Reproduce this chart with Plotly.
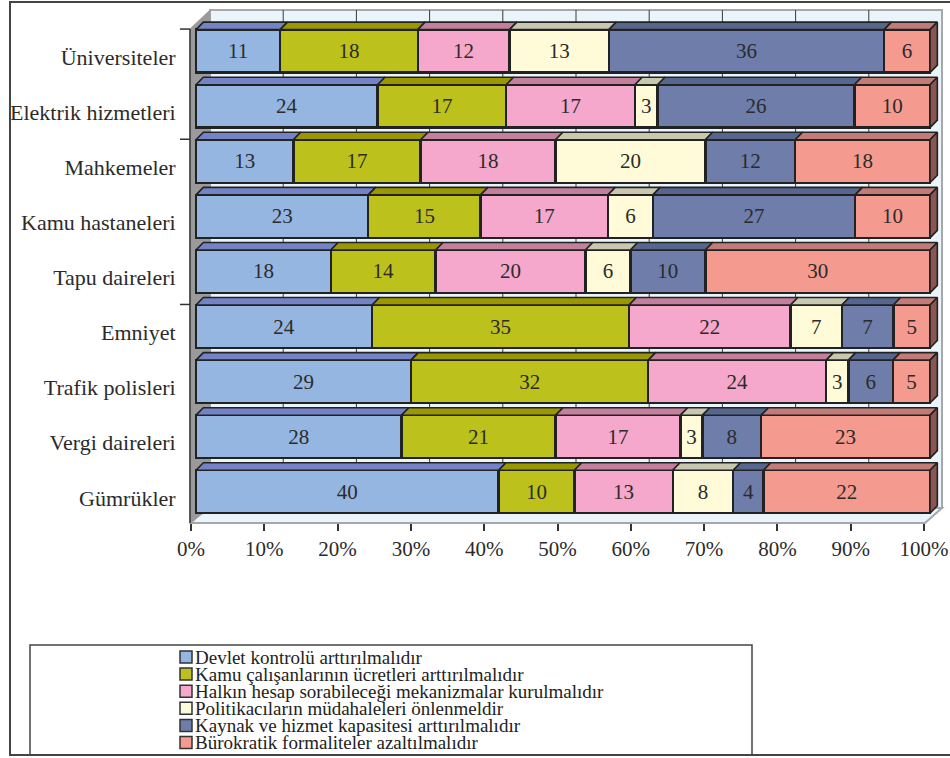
import numpy as np
import plotly.graph_objects as go

# Kurumlar ve çözüm önerileri (yüzde dağılım, her satır %100'e normalize edilir)
categories = ["Üniversiteler", "Elektrik hizmetleri", "Mahkemeler", "Kamu hastaneleri",
              "Tapu daireleri", "Emniyet", "Trafik polisleri", "Vergi daireleri", "Gümrükler"]

series_names = [
    "Devlet kontrolü arttırılmalıdır",
    "Kamu çalışanlarının ücretleri arttırılmalıdır",
    "Halkın hesap sorabileceği mekanizmalar kurulmalıdır",
    "Politikacıların müdahaleleri önlenmeldir",
    "Kaynak ve hizmet kapasitesi arttırılmalıdır",
    "Bürokratik formaliteler azaltılmalıdır",
]

devlet_kontrolu = [11, 24, 13, 23, 18, 24, 29, 28, 40]
ucretler = [18, 17, 17, 15, 14, 35, 32, 21, 10]
hesap_sorma = [12, 17, 18, 17, 20, 22, 24, 17, 13]
politikacilar = [13, 3, 20, 6, 6, 7, 3, 3, 8]
kaynak_kapasite = [36, 26, 12, 27, 10, 7, 6, 8, 4]
burokrasi = [6, 10, 18, 10, 30, 5, 5, 23, 22]

x_tick_labels = ["0%", "10%", "20%", "30%", "40%", "50%", "60%", "70%", "80%", "90%", "100%"]

series_values = [devlet_kontrolu, ucretler, hesap_sorma, politikacilar, kaynak_kapasite, burokrasi]

front_colors = ["#95B6E1", "#BCC21B", "#F5A8CC", "#FFFBD8", "#6E7DAA", "#F59A8E"]
top_colors = ["#7483C6", "#9B9700", "#C47F9D", "#C9C8AE", "#56668E", "#C27B77"]
side_color = "#8A5651"
edge = "#222222"
serif = "Liberation Serif, Times New Roman, serif"

W, H = 950, 758
# pixel -> data helpers for the layout of the pseudo-3D frame
px_per_pct = 7.34
x0_px = 196.0
pitch = 55.08
y0_px = 51.1


def X(p):
    return (p - x0_px) / px_per_pct


def Y(p):
    return (p - y0_px) / pitch


bar_w = 0.78
dx = 1.0        # bar depth, horizontal component (percent units)
dy = 0.136      # bar depth, vertical component (category units)

fig = go.Figure()

# front faces: 100% stacked horizontal bars
ypos = list(range(len(categories)))
for name, vals, col in zip(series_names, series_values, front_colors):
    fig.add_trace(go.Bar(
        y=ypos, x=vals, orientation="h", name=name, width=bar_w,
        marker=dict(color=col, line=dict(color=edge, width=2.4)),
        text=vals, texttemplate="%{text}", textposition="inside",
        insidetextanchor="middle", constraintext="none",
        textfont=dict(family=serif, size=21, color="#2b2b2b"),
        showlegend=False, hoverinfo="skip",
    ))

# top faces and right side faces computed from the normalized stacks
totals = np.sum(np.array(series_values), axis=0)
cum = np.zeros(len(categories))
for vals, tcol in zip(series_values, top_colors):
    share = np.array(vals) / totals * 100.0
    xs, ys = [], []
    for i in range(len(categories)):
        a, b = cum[i], cum[i] + share[i]
        yt = i - bar_w / 2
        xs += [a, b, b + dx, a + dx, a, None]
        ys += [yt, yt, yt - dy, yt - dy, yt, None]
    cum = cum + share
    fig.add_trace(go.Scatter(x=xs, y=ys, mode="lines", fill="toself", fillcolor=tcol,
                             line=dict(color=edge, width=1.6), showlegend=False,
                             hoverinfo="skip"))

xs, ys = [], []
for i in range(len(categories)):
    yt, yb = i - bar_w / 2, i + bar_w / 2
    xs += [100, 100 + dx, 100 + dx, 100, 100, None]
    ys += [yt, yt - dy, yb - dy, yb, yt, None]
fig.add_trace(go.Scatter(x=xs, y=ys, mode="lines", fill="toself", fillcolor=side_color,
                         line=dict(color=edge, width=1.6), showlegend=False, hoverinfo="skip"))

# helper trace so the percentage axis is drawn
fig.add_trace(go.Scatter(x=[0, 100], y=[4, 4], xaxis="x2", yaxis="y", mode="markers",
                         marker=dict(opacity=0), showlegend=False, hoverinfo="skip"))

shapes = []
wall = "#EAF4FB"
# back wall
shapes.append(dict(type="rect", xref="x", yref="y", x0=X(210), x1=X(942), y0=Y(10), y1=Y(508),
                   fillcolor=wall, line=dict(color="#A8A8A8", width=2), layer="below"))
# gridlines on the back wall
for k in range(1, 10):
    gx = X(210) + 10 * k * (732 / 734)
    shapes.append(dict(type="line", xref="x", yref="y", x0=gx, x1=gx, y0=Y(10), y1=Y(508),
                       line=dict(color="#3a3a3a", width=1), layer="below"))
# floor
shapes.append(dict(type="path", xref="x", yref="y",
                   path=f"M{X(191)},{Y(523)} L{X(925)},{Y(523)} L{X(942)},{Y(508)} L{X(205)},{Y(508)} Z",
                   fillcolor=wall, line=dict(color="#A8A8A8", width=2), layer="below"))
# left wall
shapes.append(dict(type="path", xref="x", yref="y",
                   path=f"M{X(190)},{Y(29)} L{X(210)},{Y(10)} L{X(210)},{Y(508)} L{X(190)},{Y(523)} Z",
                   fillcolor="#9A9A9A", line=dict(color="#9A9A9A", width=1), layer="below"))
# category axis line and its boundary ticks
shapes.append(dict(type="line", xref="x", yref="y", x0=X(190), x1=X(190), y0=Y(29), y1=Y(523),
                   line=dict(color="#333", width=1.5)))
for k in (0, 2, 5):
    ty = k - 0.5 + 0.1
    shapes.append(dict(type="line", xref="x", yref="y", x0=X(180), x1=X(190), y0=ty, y1=ty,
                       line=dict(color="#333", width=1.5)))

# outer frame
shapes.append(dict(type="rect", xref="paper", yref="paper", x0=10 / W, x1=1.05,
                   y0=1 - 755 / H, y1=1 - 2 / H, line=dict(color="#444", width=2)))
# legend box
shapes.append(dict(type="rect", xref="paper", yref="paper", x0=30 / W, x1=752 / W,
                   y0=1 - 755 / H, y1=1 - 645 / H, line=dict(color="#444", width=1.5)))

annotations = []
for k, (name, col) in enumerate(zip(series_names, front_colors)):
    cy = 657 + 17.1 * k
    shapes.append(dict(type="rect", xref="paper", yref="paper", x0=180 / W, x1=192 / W,
                       y0=1 - (cy + 6) / H, y1=1 - (cy - 6) / H, fillcolor=col,
                       line=dict(color="#333", width=1.5)))
    annotations.append(dict(xref="paper", yref="paper", x=194 / W, y=1 - cy / H,
                            xanchor="left", yanchor="middle", text=name, showarrow=False,
                            borderpad=0, font=dict(family=serif, size=19, color="#222")))

fig.update_layout(
    width=W, height=H, margin=dict(l=0, r=0, t=0, b=0, autoexpand=False),
    paper_bgcolor="white", plot_bgcolor="rgba(0,0,0,0)",
    barmode="stack", barnorm="percent",
    uniformtext=dict(minsize=21, mode="show"),
    shapes=shapes, annotations=annotations,
    xaxis=dict(range=[X(0), X(W)], visible=False, fixedrange=True, automargin=False),
    xaxis2=dict(domain=[191 / W, 924 / W], range=[0, 100], anchor="free",
                position=1 - 523 / H, tickvals=list(range(0, 101, 10)), ticktext=x_tick_labels,
                ticks="outside", ticklen=7, tickwidth=1.5, tickcolor="#333",
                showgrid=False, zeroline=False, showline=False, automargin=False,
                tickfont=dict(family=serif, size=21, color="#2b2b2b")),
    yaxis=dict(range=[Y(H), Y(0)], anchor="free", position=190 / W,
               tickvals=[i + 0.11 for i in ypos], ticktext=categories,
               ticks="outside", ticklen=10, tickcolor="rgba(0,0,0,0)",
               showgrid=False, zeroline=False, showline=False, automargin=False,
               tickfont=dict(family=serif, size=22, color="#2b2b2b")),
    showlegend=False,
)

fig.write_html("out.html")
